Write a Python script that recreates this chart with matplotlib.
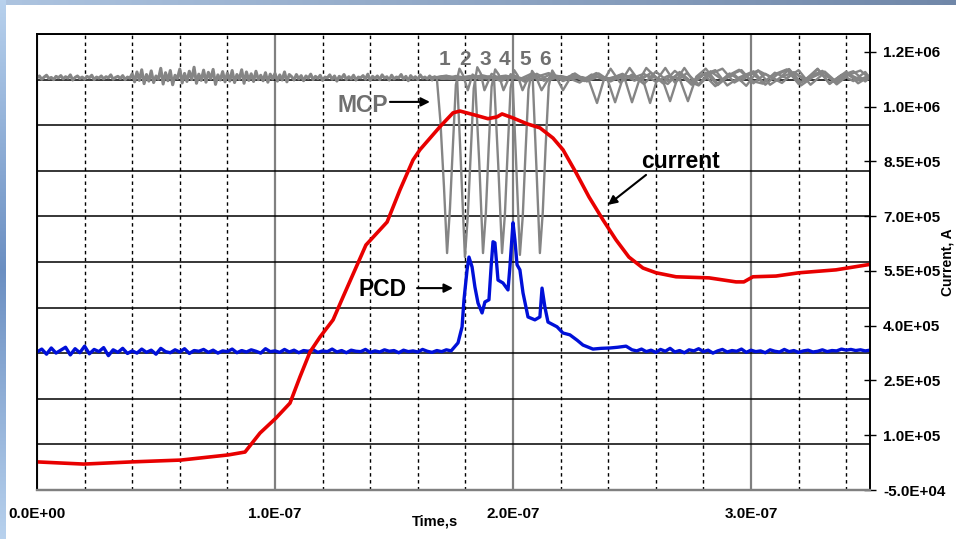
import numpy as np
import matplotlib
matplotlib.use("Agg")
import matplotlib.pyplot as plt

plt.rcParams['font.family'] = ['Liberation Sans', 'DejaVu Sans']
plt.rcParams['font.weight'] = 'bold'

# ---- data: time in ns, signals in kA (right axis scale) ----
# discharge current
current_t = [0, 9.7, 19.7, 39.9, 60.5, 80.3, 87.4, 93.7, 100.4, 106.3,
             110.5, 114.7, 118.9, 124.4, 128.6, 133.6, 138.2, 147.1, 152.5, 158.0,
             160.9, 169.3, 174.8, 177.7, 184.0, 189.5, 193.3, 195.4, 200.0, 205.9,
             211.3, 216.8, 221.0, 226.5, 231.9, 237.8, 243.3, 248.7, 254.6, 260.1,
             268.5, 282.4, 293.7, 297.0, 300.8, 310.5, 320.2, 335.7, 350.0]
current_v = [27, 24, 21, 27, 32, 46, 54, 106, 147, 188,
             260, 328, 369, 416, 479, 553, 621, 684, 772, 854,
             882, 945, 983, 988, 977, 967, 972, 980, 969, 953,
             942, 914, 882, 819, 753, 690, 635, 588, 558, 545,
             534, 531, 520, 520, 534, 536, 545, 553, 568]

# PCD signal: noisy baseline (2 ns samples), pulse, noisy baseline
pcd_left_t0, pcd_left_dt = 0, 2
pcd_left_v = [328, 336, 322, 339, 325, 333, 341, 320, 337, 326, 344, 323, 335, 329, 340, 318, 334, 327, 338, 324,
              331, 325, 336, 327, 333, 322, 338, 329, 326, 334, 328, 337, 324, 332, 330, 335, 327, 333, 325, 331,
              329, 336, 326, 332, 328, 334, 330, 325, 337, 329, 331, 327, 335, 328, 333, 326, 332, 330, 334, 327,
              331, 329, 336, 328, 332, 326, 333, 330, 329, 335, 327, 331, 328, 334, 330, 332, 326, 333, 329, 331,
              328, 335, 330, 327, 332, 329, 334, 331]
pcd_pulse_t = [176.9, 178.6, 179.4, 180.7, 181.5, 182.8, 184.0, 185.3, 187.0, 188.2,
               189.9, 190.8, 191.6, 192.4, 193.7, 195.8, 197.9, 198.7, 200.0, 200.8,
               201.7, 202.9, 204.2, 206.3, 209.2, 211.3, 212.2, 213.4, 214.7, 218.5,
               221.0, 223.9, 227.0, 229.4, 233.6, 237.0, 240.8, 244.0, 247.5]
pcd_pulse_v = [353, 397, 471, 553, 588, 561, 506, 462, 435, 465,
               471, 561, 630, 627, 525, 517, 498, 561, 682, 635,
               567, 553, 490, 424, 416, 424, 503, 451, 410, 397,
               380, 375, 360, 347, 336, 338, 339, 341, 344]
pcd_right_t0, pcd_right_dt = 250, 2
pcd_right_v = [334, 331, 336, 329, 333, 327, 335, 330, 338, 328, 332, 326, 334, 331, 337, 329, 333, 325, 331, 335,
               328, 332, 330, 336, 327, 333, 329, 331, 326, 334, 330, 328, 335, 329, 332, 327, 331, 333, 328, 330,
               334, 329, 332, 331, 336, 333, 335, 332, 334, 331, 333]

# MCP monitor: noisy pre-trigger trace (1 ns samples)
mcp_noise_t0, mcp_noise_dt = 0, 1
mcp_noise_v = [1079, 1084, 1075, 1081, 1086, 1077, 1080, 1074, 1083, 1079, 1085, 1076, 1082, 1078, 1087, 1073, 1080, 1084, 1077, 1081,
               1075, 1083, 1079, 1086, 1074, 1081, 1078, 1084, 1076, 1082, 1079, 1087, 1075, 1080, 1083, 1077, 1085, 1074, 1081, 1078,
               1090, 1068, 1095, 1072, 1101, 1063, 1088, 1070, 1098, 1066, 1084, 1075, 1105, 1062, 1093, 1071, 1099, 1060, 1086, 1077,
               1103, 1065, 1091, 1069, 1097, 1074, 1108, 1064, 1089, 1072, 1100, 1067, 1094, 1076, 1102, 1061, 1087, 1073, 1096, 1068,
               1092, 1070, 1099, 1066, 1088, 1075, 1101, 1064, 1095, 1072, 1090, 1069, 1097, 1074, 1086, 1071, 1093, 1067, 1089, 1076,
               1091, 1070, 1087, 1073, 1095, 1068, 1088,
               1082, 1073, 1088, 1076, 1085, 1071, 1084, 1078, 1089, 1074, 1083, 1077, 1086, 1072, 1081, 1079, 1087, 1075, 1084, 1070,
               1083, 1078, 1088, 1074, 1082, 1076, 1086, 1073, 1081, 1079, 1085, 1075, 1089, 1072, 1083, 1077, 1084, 1074, 1087, 1078,
               1082, 1073, 1086, 1076, 1081, 1079, 1088, 1075, 1083, 1071, 1085, 1077, 1082, 1074, 1087, 1078, 1081, 1076, 1084, 1073,
               1082, 1079, 1080, 1078]

# MCP frames 1..6 (one trace per frame)
mcp1_t = [166, 168, 169.5, 171, 172.3, 173.5, 174.8, 176, 177.5, 179, 181, 183, 186, 190, 195, 200, 205, 210, 215, 220,
          225, 229, 232, 235.3, 238, 241, 245, 250, 255, 260, 265, 270, 275, 280, 285, 290, 295, 300, 305, 310,
          315, 320, 325, 330, 335, 340, 345, 350]
mcp1_v = [1080, 1078, 960, 780, 599, 720, 900, 1060, 1104, 1086, 1045, 1088, 1075, 1083, 1070, 1086, 1074, 1090, 1072, 1084,
          1077, 1081, 1070, 1010, 1070, 1104, 1066, 1088, 1062, 1096, 1070, 1092, 1060, 1087, 1100, 1058, 1080, 1094, 1066, 1089,
          1102, 1062, 1084, 1098, 1068, 1090, 1072, 1086]
mcp2_t = [166, 170, 174, 176.5, 178, 179.8, 181, 182.3, 183.5, 185, 186.5, 188, 191, 195, 200, 205, 210, 215, 220, 225,
          230, 235, 239.5, 242.9, 246, 249, 253, 258, 263, 268, 273, 278, 283, 288, 293, 298, 303, 308, 313, 318,
          323, 328, 333, 338, 343, 348, 350]
mcp2_v = [1077, 1083, 1076, 1079, 860, 588, 700, 880, 1050, 1108, 1090, 1045, 1090, 1074, 1086, 1068, 1082, 1092, 1075, 1085,
          1070, 1083, 1078, 1012, 1075, 1106, 1070, 1093, 1064, 1098, 1072, 1058, 1090, 1104, 1066, 1085, 1099, 1060, 1082, 1094,
          1070, 1103, 1064, 1086, 1097, 1069, 1080]
mcp3_t = [166, 171, 176, 181, 184, 185.8, 187.4, 188.6, 189.8, 191, 192.5, 194, 196, 199, 203, 208, 213, 218, 223, 228,
          233, 238, 243, 247, 250, 253, 256, 260, 265, 270, 275, 280, 285, 290, 295, 300, 305, 310, 315, 320,
          325, 330, 335, 340, 345, 350]
mcp3_v = [1081, 1076, 1084, 1078, 1080, 850, 599, 710, 890, 1055, 1102, 1088, 1045, 1089, 1076, 1091, 1071, 1085, 1079, 1066,
          1088, 1074, 1082, 1076, 1012, 1072, 1106, 1080, 1062, 1095, 1068, 1090, 1056, 1084, 1101, 1071, 1063, 1093, 1078, 1100,
          1060, 1088, 1072, 1096, 1064, 1084]
mcp4_t = [166, 172, 178, 184, 189, 192, 193.8, 195.4, 196.6, 197.8, 199, 200.5, 202, 204, 207, 211, 216, 221, 226, 231,
          236, 241, 246, 251, 254.5, 257.6, 260.5, 264, 268, 273, 278, 283, 288, 293, 298, 303, 308, 313, 318, 323,
          328, 333, 338, 343, 348, 350]
mcp4_v = [1079, 1085, 1074, 1082, 1077, 1081, 840, 599, 705, 885, 1052, 1100, 1085, 1045, 1087, 1073, 1090, 1070, 1084, 1078,
          1091, 1069, 1086, 1080, 1076, 1010, 1074, 1106, 1066, 1092, 1061, 1097, 1073, 1088, 1057, 1099, 1082, 1065, 1094, 1075,
          1104, 1062, 1087, 1070, 1095, 1078]
mcp5_t = [166, 173, 180, 187, 193, 198, 199.8, 201.3, 202.9, 204.1, 205.3, 206.5, 208, 209.5, 212, 216, 221, 226, 231, 236,
          241, 246, 251, 256, 260, 263, 266, 269, 272, 276, 281, 286, 291, 296, 301, 306, 311, 316, 321, 326,
          331, 336, 341, 346, 350]
mcp5_v = [1078, 1083, 1075, 1086, 1077, 1082, 1076, 850, 594, 700, 880, 1048, 1098, 1084, 1045, 1088, 1074, 1091, 1069, 1083,
          1077, 1090, 1071, 1085, 1079, 1070, 1015, 1076, 1106, 1068, 1093, 1059, 1086, 1100, 1064, 1090, 1072, 1102, 1058, 1081,
          1096, 1067, 1089, 1074, 1085]
mcp6_t = [166, 174, 182, 190, 197, 203, 207, 208.3, 209.8, 211.3, 212.5, 213.7, 215, 216.5, 218, 221, 225, 230, 235, 240,
          245, 250, 255, 260, 265, 270, 273.5, 277, 281, 286, 291, 296, 301, 306, 311, 316, 321, 326, 331, 336,
          341, 346, 350]
mcp6_v = [1080, 1076, 1084, 1079, 1085, 1074, 1080, 1075, 840, 599, 710, 890, 1056, 1099, 1083, 1045, 1089, 1075, 1092, 1071,
          1086, 1078, 1090, 1068, 1084, 1077, 1015, 1082, 1104, 1063, 1091, 1070, 1097, 1060, 1088, 1103, 1066, 1085, 1094, 1061,
          1087, 1099, 1076]

frame_labels = ["1", "2", "3", "4", "5", "6"]
frame_t = [171.4, 179.8, 188.2, 196.6, 205.0, 213.4]

x_ticks = [0, 100, 200, 300]
x_tick_labels = ["0.0E+00", "1.0E-07", "2.0E-07", "3.0E-07"]
y_ticks = [-50, 100, 250, 400, 550, 700, 850, 1000, 1150]
y_tick_labels = ["-5.0E+04", "1.0E+05", "2.5E+05", "4.0E+05", "5.5E+05",
                 "7.0E+05", "8.5E+05", "1.0E+06", "1.2E+06"]

ns = 1e-9

fig = plt.figure(figsize=(9.56, 5.39), dpi=100)

# slide background: blue strips at top and left
bg = fig.add_axes([0, 0, 1, 1], zorder=-10)
bg.axis('off')
img = np.ones((539, 956, 3))
top = np.linspace(0, 1, 956)[:, None]
img[:5, :, :] = (np.array([0.68, 0.77, 0.88]) * (1 - top) + np.array([0.44, 0.53, 0.66]) * top)[None, :, :]
side = np.linspace(0, 1, 539)[:, None]
img[:, :6, :] = (np.array([0.72, 0.82, 0.93]) * np.abs(1 - 2 * side) + np.array([0.42, 0.56, 0.76]) * (1 - np.abs(1 - 2 * side)))[:, None, :]
bg.imshow(img, aspect='auto', extent=(0, 1, 0, 1))
bg.set_xlim(0, 1)
bg.set_ylim(0, 1)

ax = fig.add_axes([37 / 956, 49 / 539, 833 / 956, 456 / 539])
ax.set_xlim(0, 350 * ns)
ax.set_ylim(0, 10)
ax.set_yticks(range(11))
ax.set_yticklabels([])
ax.tick_params(axis='y', length=0)
ax.set_xticks([t * ns for t in x_ticks])
ax.set_xticklabels(x_tick_labels, fontsize=11, fontweight='bold')
ax.set_xticks([t * ns for t in range(20, 350, 20) if t % 100], minor=True)
ax.tick_params(axis='x', which='both', length=0, pad=12)
ax.grid(True, axis='y', color='black', lw=1.1)
ax.grid(True, axis='x', which='major', color='#808080', lw=1.6)
ax.grid(True, axis='x', which='minor', color='black', lw=1.0, linestyle=(0, (2.5, 2.5)))
ax.set_axisbelow(True)

ax2 = ax.twinx()
ax2.set_ylim(-50, 1199)
ax2.set_yticks(y_ticks)
ax2.set_yticklabels(y_tick_labels, fontsize=11, fontweight='bold')
ax2.tick_params(axis='y', direction='inout', length=9, width=1, pad=5)

for a in (ax, ax2):
    a.spines['left'].set_color('black')
    a.spines['top'].set_color('black')
    a.spines['right'].set_color('black')
    a.spines['bottom'].set_color('#808080')
    for s in a.spines.values():
        s.set_linewidth(1.2)
    a.spines['bottom'].set_linewidth(1.6)

gray = '#858585'
mcp_noise_t = [mcp_noise_t0 + i * mcp_noise_dt for i in range(len(mcp_noise_v))]
ax2.plot(np.array(mcp_noise_t) * ns, mcp_noise_v, color=gray, lw=2.2)
for tt, vv in [(mcp1_t, mcp1_v), (mcp2_t, mcp2_v), (mcp3_t, mcp3_v),
               (mcp4_t, mcp4_v), (mcp5_t, mcp5_v), (mcp6_t, mcp6_v)]:
    ax2.plot(np.array(tt) * ns, vv, color=gray, lw=1.7)

pcd_left_t = [pcd_left_t0 + i * pcd_left_dt for i in range(len(pcd_left_v))]
pcd_right_t = [pcd_right_t0 + i * pcd_right_dt for i in range(len(pcd_right_v))]
pcd_t = pcd_left_t + pcd_pulse_t + pcd_right_t
pcd_v = pcd_left_v + pcd_pulse_v + pcd_right_v
ax2.plot(np.array(pcd_t) * ns, pcd_v, color='#0010d8', lw=2.4)

ax2.plot(np.array(current_t) * ns, current_v, color='#e80000', lw=2.6)

# frame numbers and annotations
for lab, t in zip(frame_labels, frame_t):
    ax2.text(t * ns, 1130, lab, color='#707070', fontsize=15, fontweight='bold',
             ha='center', va='center')

arrow = dict(arrowstyle='-|>', color='black', lw=1.5, mutation_scale=13, shrinkA=0, shrinkB=0)
ax2.annotate('', xy=(165.1 * ns, 1013), xytext=(148.3 * ns, 1013), arrowprops=arrow)
ax2.text(147.5 * ns, 1002, 'MCP', color='#707070', fontsize=16.5, fontweight='bold', ha='right', va='center')
ax2.annotate('', xy=(174.8 * ns, 503), xytext=(159.7 * ns, 503), arrowprops=arrow)
ax2.text(155.5 * ns, 498, 'PCD', color='black', fontsize=16.5, fontweight='bold', ha='right', va='center')
ax2.annotate('', xy=(239.9 * ns, 731), xytext=(255.9 * ns, 813), arrowprops=arrow)
ax2.text(270.2 * ns, 849, 'current', color='black', fontsize=16.5, fontweight='bold', ha='center', va='center')

fig.text(435 / 956, 1 - 522 / 539, 'Time,s', fontsize=10.5, fontweight='bold', ha='center', va='center')
fig.text(947 / 956, 1 - 262 / 539, 'Current, A', fontsize=10, fontweight='bold',
         rotation=90, ha='center', va='center')

fig.savefig('out.png', dpi=100)
